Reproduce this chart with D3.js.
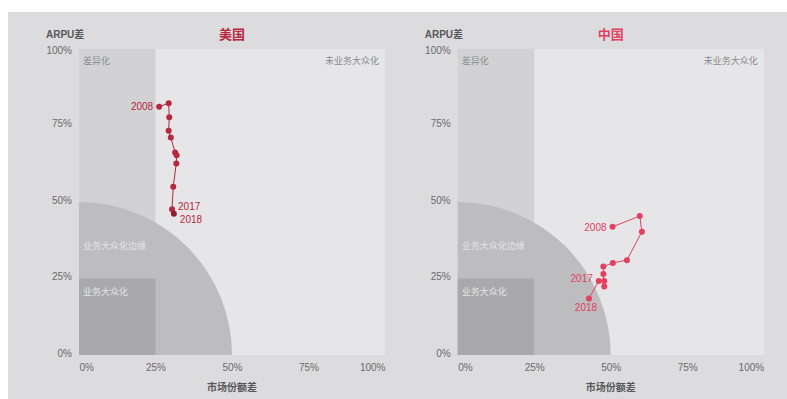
<!DOCTYPE html>
<html>
<head>
<meta charset="utf-8">
<script src="https://cdn.jsdelivr.net/npm/d3@7"></script>
<style>
  html, body { margin: 0; padding: 0; background: #fff; }
  svg text { font-family: "Liberation Sans", "Noto Sans CJK SC", sans-serif; }
</style>
</head>
<body>
<div id="chart"></div>
<script>
// ARPU gap vs market share gap, US and China, 2008-2018

const years = [2008, 2009, 2010, 2011, 2012, 2013, 2014, 2015, 2016, 2017, 2018];
const usShare = [26.2, 29.3, 29.5, 29.3, 30.0, 31.4, 31.9, 31.8, 30.8, 30.4, 31.0];
const usArpu  = [81.1, 82.3, 77.7, 73.3, 71.1, 66.2, 65.3, 62.6, 55.0, 47.6, 46.2];
const cnShare = [50.6, 59.5, 60.2, 55.3, 50.7, 47.6, 47.6, 47.9, 47.9, 46.1, 42.9];
const cnArpu  = [41.9, 45.4, 40.3, 31.0, 30.1, 28.9, 26.5, 22.4, 24.2, 24.2, 18.5];
const tickValues = [0, 25, 50, 75, 100];
const labelledYears = [2008, 2017, 2018];

const panels = [
    {title: "美国", share: usShare, arpu: usArpu, color: "#b8273b", last: "#8c1b2b", left: 79},
    {title: "中国", share: cnShare, arpu: cnArpu, color: "#e2415f", last: "#e2415f", left: 457.7}
];

const W = 787, H = 399;
const plotTop = 49, plotSize = 306;

const svg = d3.select("#chart").append("svg")
    .attr("width", W)
    .attr("height", H);

// outer gray card
svg.append("rect")
    .attr("x", 8).attr("y", 12)
    .attr("width", W - 8).attr("height", H - 12)
    .attr("fill", "#dcdcde");

panels.forEach((p, idx) => {
    const x = d3.scaleLinear().domain([0, 100]).range([0, plotSize]);
    const y = d3.scaleLinear().domain([0, 100]).range([plotSize, 0]);

    const g = svg.append("g")
        .attr("transform", `translate(${p.left},${plotTop})`);

    // background zones
    g.append("rect")
        .attr("x", x(0)).attr("y", y(100))
        .attr("width", x(100) - x(0)).attr("height", y(0) - y(100))
        .attr("fill", "#e6e6e8");

    g.append("rect")
        .attr("x", x(0)).attr("y", y(100))
        .attr("width", x(25) - x(0)).attr("height", y(0) - y(100))
        .attr("fill", "#d2d2d4");

    // quarter circle of radius 50%
    const r = x(50) - x(0);
    g.append("path")
        .attr("d", `M${x(0)},${y(0)} L${x(50)},${y(0)} A${r},${r} 0 0 0 ${x(0)},${y(50)} Z`)
        .attr("fill", "#bdbdbf");

    g.append("rect")
        .attr("x", x(0)).attr("y", y(25))
        .attr("width", x(25) - x(0)).attr("height", y(0) - y(25))
        .attr("fill", "#a9a9ab");

    // zone labels
    g.append("text")
        .attr("x", x(0) + 4).attr("y", y(100) + 15)
        .style("font-size", "9px").attr("fill", "#8a8a8c")
        .text("差异化");

    g.append("text")
        .attr("x", x(100) - 6).attr("y", y(100) + 15)
        .attr("text-anchor", "end")
        .style("font-size", "9px").attr("fill", "#8a8a8c")
        .text("未业务大众化");

    g.append("text")
        .attr("x", x(0) + 4).attr("y", y(36) + 4)
        .style("font-size", "9px").attr("fill", "#e4e4e6")
        .text("业务大众化边缘");

    g.append("text")
        .attr("x", x(0) + 4).attr("y", y(21) + 4)
        .style("font-size", "9px").attr("fill", "#e4e4e6")
        .text("业务大众化");

    // axes
    const fmt = d => d + "%";
    const yAxis = g.append("g")
        .attr("transform", `translate(-4,0)`)
        .call(d3.axisLeft(y).tickValues(tickValues).tickSize(0).tickFormat(fmt));
    yAxis.select(".domain").remove();
    yAxis.selectAll("text")
        .attr("dy", d => d === 100 ? "0.45em" : "0.12em")
        .style("font-size", "10px")
        .attr("fill", "#6a6a6c");

    const xAxis = g.append("g")
        .attr("transform", `translate(0,${plotSize})`)
        .call(d3.axisBottom(x).tickValues(tickValues).tickSize(0).tickFormat(fmt));
    xAxis.select(".domain").remove();
    xAxis.selectAll("text")
        .attr("y", 9)
        .style("font-size", "10px")
        .attr("fill", "#6a6a6c")
        .attr("text-anchor", d => d === 0 ? "start" : d === 100 ? "end" : "middle");

    // titles
    g.append("text")
        .attr("x", -33).attr("y", -11)
        .style("font-size", "10px").style("font-weight", "bold")
        .attr("fill", "#58585a")
        .text("ARPU差");

    g.append("text")
        .attr("x", x(50)).attr("y", -10)
        .attr("text-anchor", "middle")
        .style("font-size", "13px").style("font-weight", "bold")
        .attr("fill", p.color)
        .text(p.title);

    g.append("text")
        .attr("x", x(50)).attr("y", plotSize + 36)
        .attr("text-anchor", "middle")
        .style("font-size", "10px").style("font-weight", "bold")
        .attr("fill", "#58585a")
        .text("市场份额差");

    // trajectory
    const pts = years.map((yr, i) => ({year: yr, share: p.share[i], arpu: p.arpu[i]}));

    g.append("path")
        .datum(pts)
        .attr("fill", "none")
        .attr("stroke", p.color)
        .attr("stroke-width", 1)
        .attr("d", d3.line().x(d => x(d.share)).y(d => y(d.arpu)));

    g.selectAll(".dot")
        .data(pts)
        .enter()
        .append("circle")
        .attr("class", "dot")
        .attr("cx", d => x(d.share))
        .attr("cy", d => y(d.arpu))
        .attr("r", 3)
        .attr("fill", (d, i) => i === pts.length - 1 ? p.last : p.color);

    // year labels
    const labelPos = idx === 0
        ? {2008: [-6, 3, "end"], 2017: [6, 1, "start"], 2018: [6, 9, "start"]}
        : {2008: [-6, 4, "end"], 2017: [-6, 1, "end"], 2018: [-3, 13, "middle"]};

    g.selectAll(".yr")
        .data(pts.filter(d => labelledYears.includes(d.year)))
        .enter()
        .append("text")
        .attr("class", "yr")
        .attr("x", d => x(d.share) + labelPos[d.year][0])
        .attr("y", d => y(d.arpu) + labelPos[d.year][1])
        .attr("text-anchor", d => labelPos[d.year][2])
        .style("font-size", "10px")
        .attr("fill", p.color)
        .text(d => d.year);
});
</script>
</body>
</html>
